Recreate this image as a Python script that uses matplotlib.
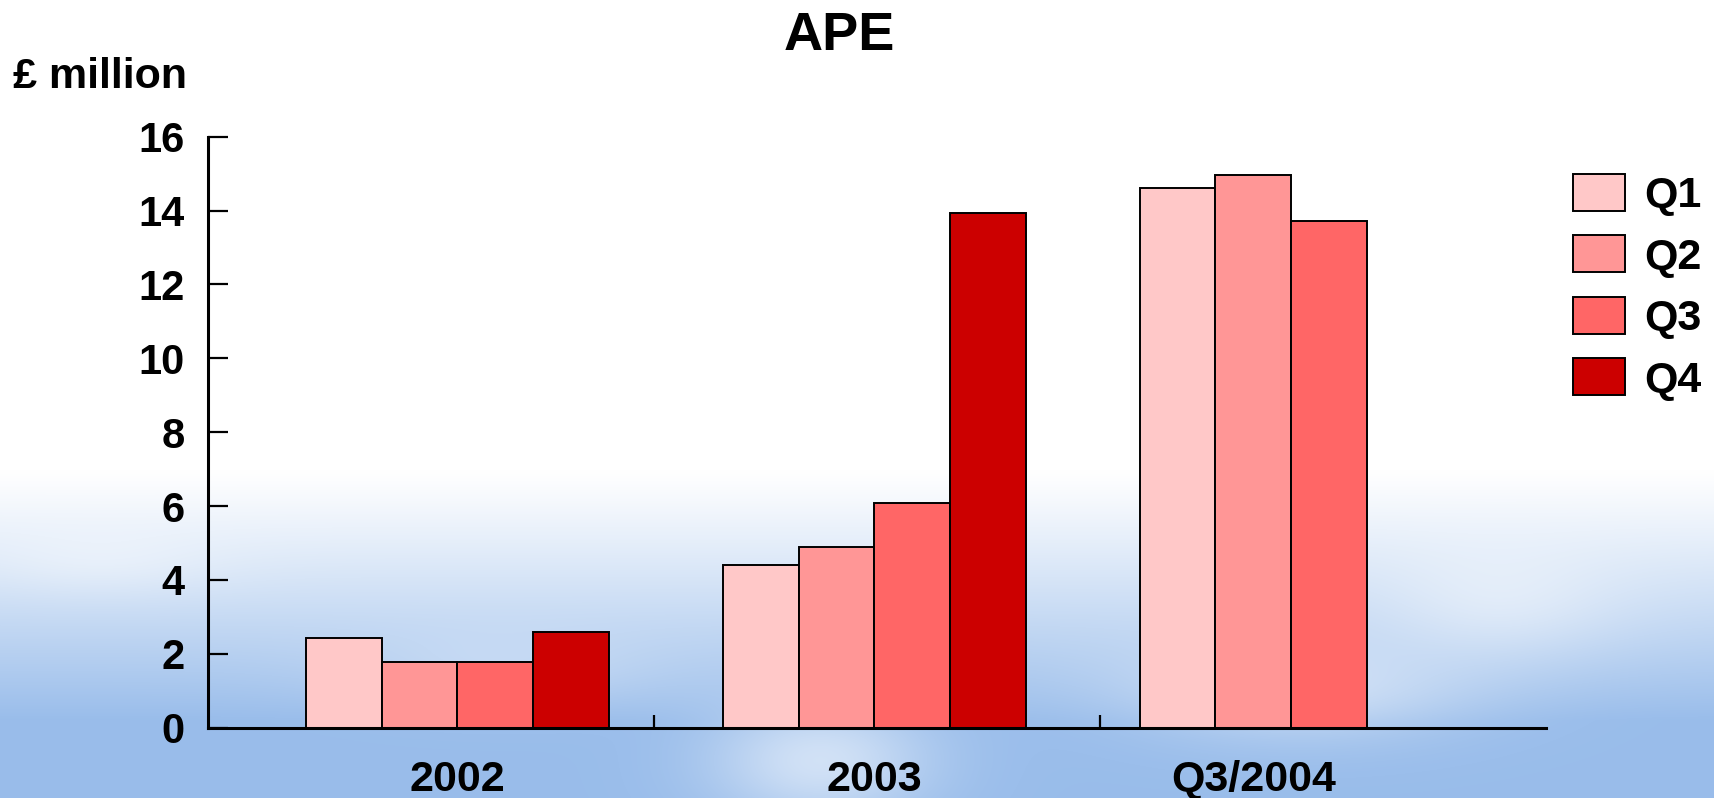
import numpy as np
import matplotlib.pyplot as plt

# Datos (millones de libras)
periods = ["2002", "2003", "Q3/2004"]
quarters = ["Q1", "Q2", "Q3", "Q4"]
q1 = [2.42, 4.40, 14.62]
q2 = [1.77, 4.90, 14.96]
q3 = [1.77, 6.08, 13.72]
q4 = [2.58, 13.93]          # no hay Q4 en 2004
series = [q1, q2, q3, q4]
colors = ["#FFC8C8", "#FF9696", "#FF6666", "#CC0000"]

plt.rcParams['font.family'] = ['Liberation Sans', 'DejaVu Sans']
plt.rcParams['font.weight'] = 'bold'

W, H = 1715, 798
fig = plt.figure(figsize=(W / 100, H / 100), dpi=100)

# Fondo: cielo degradado en la parte baja
yy, xx = np.mgrid[0:H, 0:W].astype(float)
t = np.clip((yy - 470) / 250, 0, 1) ** 1.1
sky = np.array([0.60, 0.74, 0.92])
img = np.ones((H, W, 3)) * (1 - t[..., None]) + sky * t[..., None]
for cx, cy, sx, sy, a in [(820, 760, 110, 60, 0.55), (1300, 690, 170, 50, 0.45),
                          (1500, 600, 120, 60, 0.4), (500, 670, 150, 40, 0.25),
                          (100, 560, 120, 35, 0.3)]:
    g = a * np.exp(-((xx - cx) / sx) ** 2 - ((yy - cy) / sy) ** 2)
    img = img * (1 - g[..., None]) + g[..., None]
bg = fig.add_axes([0, 0, 1, 1], zorder=0)
bg.imshow(img, aspect='auto')
bg.axis('off')

ax = fig.add_axes([208 / W, 1 - 727.7 / H, (1546 - 208) / W, (727.7 - 136.7) / H], zorder=1)
ax.patch.set_alpha(0)

w = 1 / 5.5
x = np.arange(len(periods))
for k, (vals, c, name) in enumerate(zip(series, colors, quarters)):
    pos = x[:len(vals)] + (k - 1.5) * w
    ax.bar(pos, vals, width=w, color=c, edgecolor='black', linewidth=1.4, label=name)

counts = [sum(len(s) > i for s in series) for i in range(len(periods))]
label_pos = [i + ((n - 1) / 2 - 1.5) * w for i, n in enumerate(counts)]

ax.set_xlim(-0.5986, 2.6116)
ax.set_ylim(0, 16)
ax.set_yticks(range(0, 17, 2))
ax.set_xticks(label_pos)
ax.set_xticklabels(periods)
ax.set_xticks([0.471, 1.5415], minor=True)

for s in ['top', 'right']:
    ax.spines[s].set_visible(False)
for s in ['left', 'bottom']:
    ax.spines[s].set_linewidth(2.2)

ax.tick_params(axis='y', direction='in', length=14.5, width=1.6, pad=17, labelsize=30)
ax.tick_params(axis='x', which='major', length=0, pad=23, labelsize=31)
ax.tick_params(axis='x', which='minor', direction='in', length=9.5, width=1.6)

fig.text(839 / W, 1 - 50 / H, "APE", ha='center', va='baseline', fontsize=39, fontweight='bold')
fig.text(13 / W, 1 - 88 / H, "£ million", ha='left', va='baseline', fontsize=31, fontweight='bold')

leg = fig.legend(loc='upper left', bbox_to_anchor=(1573 / W, 1 - 174 / H), frameon=False,
                 fontsize=31, handlelength=1.2, handleheight=0.93, handletextpad=0.45,
                 labelspacing=0.45, borderpad=0, borderaxespad=0)

fig.savefig("out.png", dpi=100)
